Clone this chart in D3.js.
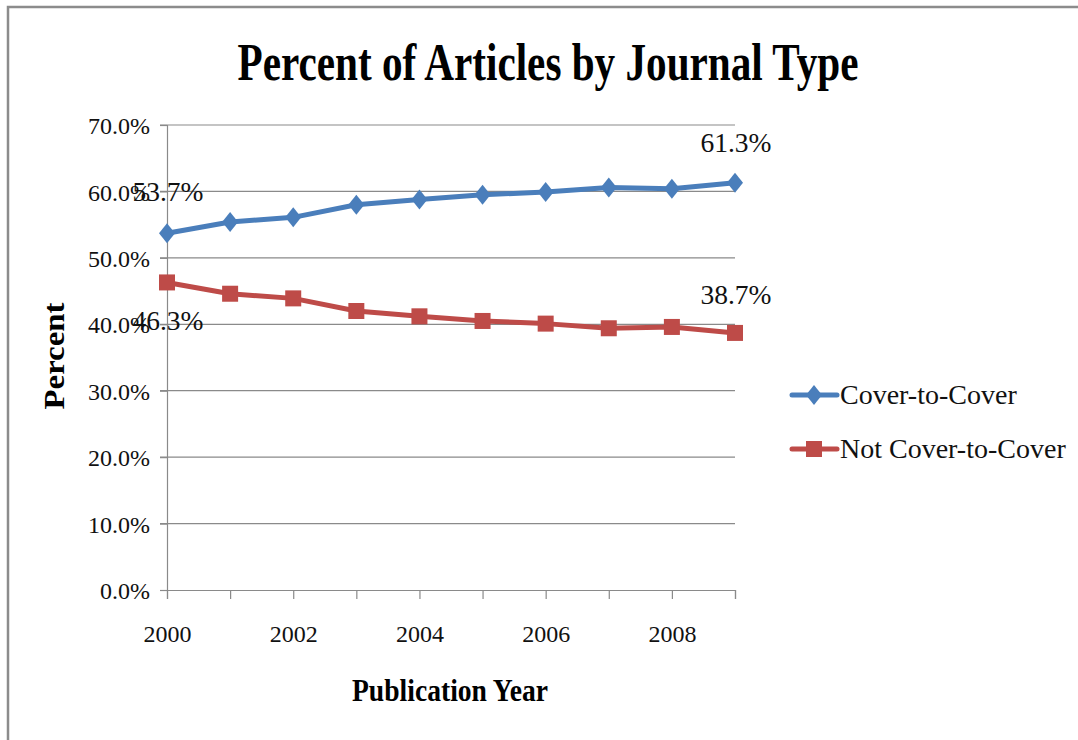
<!DOCTYPE html>
<html>
<head>
<meta charset="utf-8">
<script src="https://cdn.jsdelivr.net/npm/d3@7"></script>
<style>
  html, body { margin: 0; padding: 0; background: #fff; }
  svg { display: block; }
  svg text { font-family: "Liberation Serif", Tinos, "Times New Roman", Times, serif; }
</style>
</head>
<body>
<svg id="chart" width="1078" height="740"></svg>
<script>
// Share of articles per publication year, by journal type
const years = [2000, 2001, 2002, 2003, 2004, 2005, 2006, 2007, 2008, 2009];
const coverToCover = [53.7, 55.4, 56.1, 58.0, 58.8, 59.5, 59.9, 60.6, 60.4, 61.3];
const notCoverToCover = [46.3, 44.6, 43.9, 42.0, 41.2, 40.5, 40.1, 39.4, 39.6, 38.7];
const yTicks = [0, 10, 20, 30, 40, 50, 60, 70];
const xTickLabels = [2000, 2002, 2004, 2006, 2008];
const seriesNames = ["Cover-to-Cover", "Not Cover-to-Cover"];
// Values printed beside the first and last point of each series
const labelledYears = [2000, 2009];

const BLUE = "#4A7EBB";
const RED = "#BE4B48";
const GRID = "#8a8a8a";

const svg = d3.select("#chart");

// Outer chart-area border (left and top edges)
svg.append("path")
  .attr("d", "M8,740 V7 H1078")
  .attr("fill", "none")
  .attr("stroke", "#8c8c8c")
  .attr("stroke-width", 2.5);

const x = d3.scalePoint().domain(years).range([167, 735]);
const y = d3.scaleLinear().domain([0, 70]).range([590, 125]);

// Horizontal gridlines
svg.append("g")
  .selectAll("line")
  .data(yTicks.filter(d => d > 0))
  .join("line")
  .attr("x1", x(years[0]) - 7)
  .attr("x2", x(years[years.length - 1]))
  .attr("y1", d => y(d))
  .attr("y2", d => y(d))
  .attr("stroke", GRID)
  .attr("stroke-width", 1.2);

// Y axis
const yAxis = svg.append("g")
  .attr("transform", `translate(${x(years[0])},0)`)
  .call(d3.axisLeft(y).tickValues(yTicks).tickSize(7).tickPadding(10)
    .tickFormat(d => d.toFixed(1) + "%"));
yAxis.attr("font-family", null);
yAxis.select(".domain").attr("stroke", GRID).attr("stroke-width", 1.2);
yAxis.selectAll(".tick line").attr("stroke", GRID).attr("stroke-width", 1.2);
yAxis.selectAll(".tick text")
  .attr("font-size", 24).attr("fill", "#111")
  .attr("dy", "0.36em");

// X axis
const xAxis = svg.append("g")
  .attr("transform", `translate(0,${y(0)})`)
  .call(d3.axisBottom(x).tickSizeOuter(0).tickSize(9).tickPadding(26)
    .tickFormat(d => xTickLabels.includes(d) ? String(d) : ""));
xAxis.attr("font-family", null);
xAxis.select(".domain").attr("stroke", GRID).attr("stroke-width", 1.2);
xAxis.selectAll(".tick line").attr("stroke", GRID).attr("stroke-width", 1.2);
xAxis.selectAll(".tick text")
  .attr("font-size", 24).attr("fill", "#111");

// Series lines
const line = d3.line().x((d, i) => x(years[i])).y(d => y(d));

svg.append("path").datum(coverToCover)
  .attr("d", line).attr("fill", "none")
  .attr("stroke", BLUE).attr("stroke-width", 5).attr("stroke-linejoin", "round");
svg.append("path").datum(notCoverToCover)
  .attr("d", line).attr("fill", "none")
  .attr("stroke", RED).attr("stroke-width", 5).attr("stroke-linejoin", "round");

// Markers
const diamond = "M0,-10 L8,0 L0,10 L-8,0 Z";
svg.append("g").selectAll("path")
  .data(coverToCover)
  .join("path")
  .attr("d", diamond)
  .attr("transform", (d, i) => `translate(${x(years[i])},${y(d)})`)
  .attr("fill", BLUE);

svg.append("g").selectAll("rect")
  .data(notCoverToCover)
  .join("rect")
  .attr("x", (d, i) => x(years[i]) - 8)
  .attr("y", d => y(d) - 8)
  .attr("width", 16).attr("height", 16)
  .attr("fill", RED);

// Data labels
function addLabels(values, offsets) {
  svg.append("g").selectAll("text")
    .data(years.map((yr, i) => ({ yr, v: values[i] })).filter(d => labelledYears.includes(d.yr)))
    .join("text")
    .attr("x", d => x(d.yr) + 1)
    .attr("y", (d, i) => y(d.v) + offsets[i])
    .attr("text-anchor", "middle")
    .attr("font-size", 27.5).attr("fill", "#111")
    .text(d => d.v.toFixed(1) + "%");
}
addLabels(coverToCover, [-32, -31]);
addLabels(notCoverToCover, [48, -29]);

// Title
svg.append("text")
  .attr("x", 548).attr("y", 80)
  .attr("text-anchor", "middle")
  .attr("font-weight", "bold").attr("font-size", 52)
  .attr("textLength", 621).attr("lengthAdjust", "spacingAndGlyphs")
  .text("Percent of Articles by Journal Type");

// Axis titles
svg.append("text")
  .attr("x", 450).attr("y", 701)
  .attr("text-anchor", "middle")
  .attr("font-weight", "bold").attr("font-size", 32)
  .attr("textLength", 196).attr("lengthAdjust", "spacingAndGlyphs")
  .text("Publication Year");

svg.append("text")
  .attr("transform", "translate(64,356) rotate(-90)")
  .attr("text-anchor", "middle")
  .attr("font-weight", "bold").attr("font-size", 30)
  .attr("textLength", 107).attr("lengthAdjust", "spacingAndGlyphs")
  .text("Percent");

// Legend
const legend = svg.append("g").attr("transform", "translate(790,0)");
const legendRows = [
  { name: seriesNames[0], color: BLUE, cy: 395, shape: "diamond" },
  { name: seriesNames[1], color: RED, cy: 449, shape: "square" }
];
legendRows.forEach(r => {
  legend.append("line")
    .attr("x1", 2).attr("x2", 47)
    .attr("y1", r.cy).attr("y2", r.cy)
    .attr("stroke", r.color).attr("stroke-width", 5).attr("stroke-linecap", "round");
  if (r.shape === "diamond") {
    legend.append("path").attr("d", diamond)
      .attr("transform", `translate(24,${r.cy})`).attr("fill", r.color);
  } else {
    legend.append("rect")
      .attr("x", 16).attr("y", r.cy - 8).attr("width", 16).attr("height", 16)
      .attr("fill", r.color);
  }
  legend.append("text")
    .attr("x", 50).attr("y", r.cy + 9)
    .attr("font-size", 28).attr("fill", "#111")
    .text(r.name);
});
</script>
</body>
</html>
